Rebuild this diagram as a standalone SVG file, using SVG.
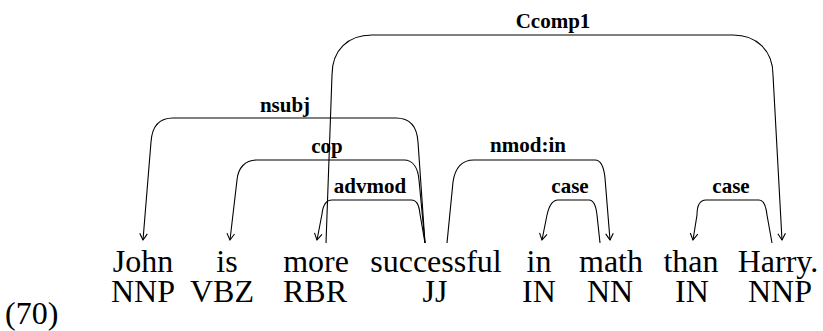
<svg xmlns="http://www.w3.org/2000/svg" width="823" height="331" viewBox="0 0 823 331" font-family="'Liberation Serif', 'DejaVu Serif', serif">
  <style>
    text { font-family: 'Liberation Serif', 'DejaVu Serif', serif; }
    .word { font-size: 32px; fill: #000; text-anchor: middle; }
    .label { font-size: 21px; font-weight: bold; fill: #000; text-anchor: middle; }
    .arc { fill: none; stroke: #000; stroke-width: 1.1; }
  </style>
  <defs>
    <marker id="arrow" markerUnits="userSpaceOnUse" markerWidth="14" markerHeight="14" viewBox="-8 -7 10 14" refX="0" refY="0" orient="auto">
      <path d="M -6.5,-3.8 Q -2,-1.2 0,0 Q -2,1.2 -6.5,3.8" fill="none" stroke="#000" stroke-width="1.1"/>
    </marker>
  </defs>
  <rect width="823" height="331" fill="#fff"/>

  <g id="connectors">
    <path id="e-ccomp1" class="arc" d="M 326,243 L 332,75 C 332,50 348,35 372,35 L 733,35 C 756,35 773,50 773,75 L 782,240" marker-end="url(#arrow)"/>
    <path id="e-nsubj" class="arc" d="M 425,243 L 418,142 C 417,126 410,118 396,118 L 173,118 C 160,118 152,126 151,142 L 143,240" marker-end="url(#arrow)"/>
    <path id="e-cop" class="arc" d="M 425,243 L 419,180 C 418,168 413,160 404,160 L 257,160 C 245,160 238,168 237,180 L 230,240" marker-end="url(#arrow)"/>
    <path id="e-advmod" class="arc" d="M 425,243 L 420,214 C 419,205 417,200 411,200 L 332,200 C 326,200 323,205 322,214 L 317,240" marker-end="url(#arrow)"/>
    <path id="e-nmod" class="arc" d="M 447,243 L 453,182 C 455,168 462,160 474,160 L 595,160 C 601,160 604,168 605,178 L 610,240" marker-end="url(#arrow)"/>
    <path id="e-case1" class="arc" d="M 600,243 L 597,215 C 596,206 594,200 589,200 L 558,200 C 552,200 549,206 547,215 L 542,240" marker-end="url(#arrow)"/>
    <path id="e-case2" class="arc" d="M 772,243 L 767,215 C 766,206 764,200 759,200 L 706,200 C 700,200 697,206 697,215 L 693,240" marker-end="url(#arrow)"/>
    <g id="edge-labels">
      <text class="label" x="553" y="28" font-family="Liberation Serif">Ccomp1</text>
      <text class="label" x="285" y="112" font-family="Liberation Serif">nsubj</text>
      <text class="label" x="327" y="153" font-family="Liberation Serif">cop</text>
      <text class="label" x="370" y="193" font-family="Liberation Serif">advmod</text>
      <text class="label" x="528" y="152" font-family="Liberation Serif">nmod:in</text>
      <text class="label" x="570" y="193" font-family="Liberation Serif">case</text>
      <text class="label" x="731" y="193" font-family="Liberation Serif">case</text>
    </g>
  </g>

  <g id="n-john"><text class="word" x="143" y="272">John</text><text class="word" x="143" y="302">NNP</text></g>
  <g id="n-is"><text class="word" x="227" y="272">is</text><text class="word" x="222" y="302">VBZ</text></g>
  <g id="n-more"><text class="word" x="316" y="272">more</text><text class="word" x="315" y="302">RBR</text></g>
  <g id="n-successful"><text class="word" x="436" y="272">successful</text><text class="word" x="435" y="302">JJ</text></g>
  <g id="n-in"><text class="word" x="539" y="272">in</text><text class="word" x="539" y="302">IN</text></g>
  <g id="n-math"><text class="word" x="611" y="272">math</text><text class="word" x="610" y="302">NN</text></g>
  <g id="n-than"><text class="word" x="691" y="272">than</text><text class="word" x="692" y="302">IN</text></g>
  <g id="n-harry"><text class="word" x="778" y="272">Harry.</text><text class="word" x="780" y="302">NNP</text></g>
  <g id="n-num"><text class="word" x="5" y="324" style="text-anchor:start">(70)</text></g>
</svg>
